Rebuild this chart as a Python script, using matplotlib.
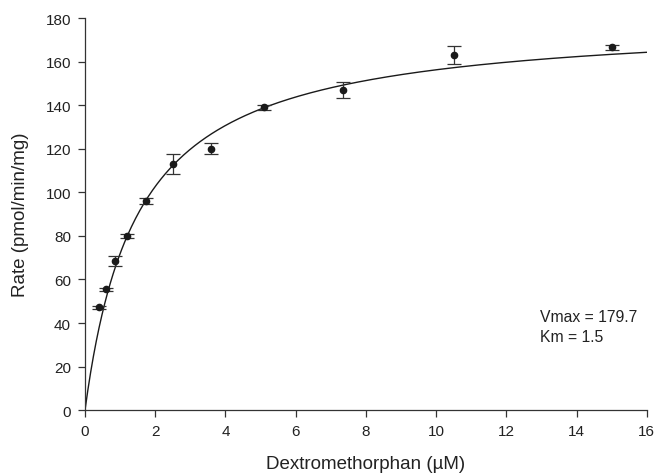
import numpy as np
import matplotlib
matplotlib.use("Agg")
import matplotlib.pyplot as plt

plt.rcParams['font.family'] = ['Liberation Sans', 'DejaVu Sans']

# Data
conc = [0.4, 0.6, 0.85, 1.2, 1.75, 2.5, 3.6, 5.1, 7.35, 10.5, 15.0]
rate = [47.2, 55.5, 68.5, 80.0, 96.0, 113.0, 120.0, 139.0, 147.0, 163.0, 166.5]
err = [0.8, 0.8, 2.5, 0.8, 1.5, 4.5, 2.5, 1.0, 3.5, 4.0, 1.2]

vmax = 179.7
km = 1.5

fig = plt.figure(figsize=(6.61, 4.77), dpi=100)
ax = fig.add_axes([0.1286, 0.138, 0.850, 0.822])

# fitted Michaelis-Menten curve
xs = np.linspace(0, 16, 400)
ax.plot(xs, vmax * xs / (km + xs), color='#1a1a1a', lw=1.0)

ax.errorbar(conc, rate, yerr=err, fmt='o', color='#1a1a1a', ms=4.5,
            ecolor='#333333', elinewidth=0.9, capsize=5, capthick=0.9)

ax.text(12.95, 43, "Vmax = 179.7", fontsize=11.3, color='#222222', va='center')
ax.text(12.95, 34, "Km = 1.5", fontsize=11.3, color='#222222', va='center')

ax.set_xlim(0, 16)
ax.set_ylim(0, 180)
ax.set_xticks(range(0, 17, 2))
ax.set_yticks(range(0, 181, 20))
ax.spines['top'].set_visible(False)
ax.spines['right'].set_visible(False)
for s in ['left', 'bottom']:
    ax.spines[s].set_color('#333333')
    ax.spines[s].set_linewidth(0.9)
ax.tick_params(direction='out', length=5, width=0.9, colors='#333333',
               labelsize=11, labelcolor='#222222', pad=5)

ax.set_xlabel("Dextromethorphan (µM)", fontsize=13.5, color='#222222', labelpad=12)
ax.set_ylabel("Rate (pmol/min/mg)", fontsize=13.5, color='#222222', labelpad=12)

fig.savefig("out.png", dpi=100)
